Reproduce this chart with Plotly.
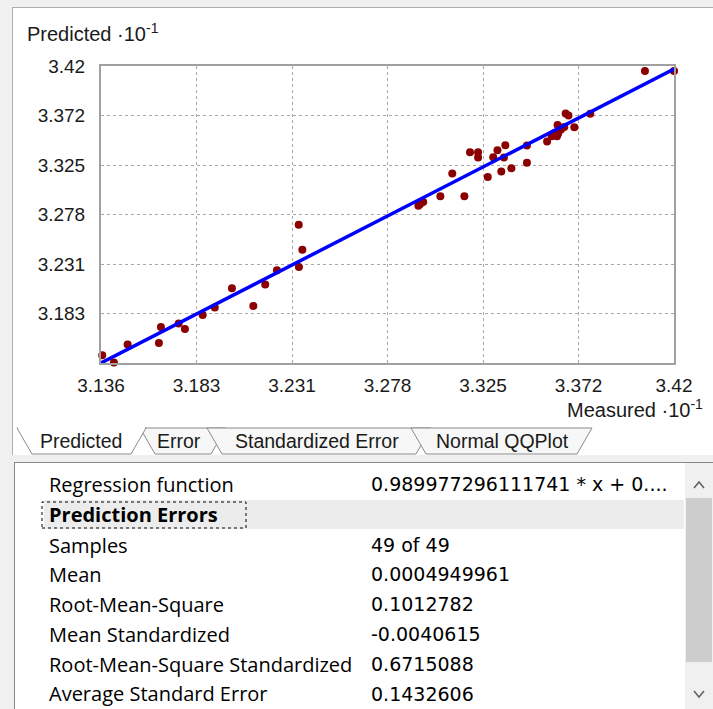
import plotly.graph_objects as go

# Cross-validation: measured vs predicted values (axis units x10^-1)
measured = [
    3.1366, 3.1424, 3.1492, 3.1647, 3.1657, 3.1745, 3.1776, 3.1864, 3.1924, 3.2009,
    3.2115, 3.2174, 3.2232, 3.2340, 3.2358, 3.2341,
    3.2933, 3.2941, 3.2957, 3.3042, 3.3101, 3.3161, 3.3189, 3.3229, 3.3229, 3.3277,
    3.3304, 3.3325, 3.3364, 3.3357, 3.3344, 3.3394, 3.3471, 3.3471,
    3.3571, 3.3594, 3.3604, 3.3610, 3.3620, 3.3626, 3.3623, 3.3640, 3.3656, 3.3663,
    3.3677, 3.3706, 3.3785, 3.4056, 3.4200,
]
predicted = [
    3.1434, 3.1364, 3.1536, 3.1551, 3.1704, 3.1737, 3.1685, 3.1819, 3.1890, 3.2074,
    3.1905, 3.2110, 3.2246, 3.2683, 3.2444, 3.2278,
    3.2863, 3.2878, 3.2900, 3.2954, 3.3171, 3.2954, 3.3375, 3.3375, 3.3324, 3.3139,
    3.3327, 3.3394, 3.3442, 3.3324, 3.3190, 3.3222, 3.3439, 3.3274,
    3.3477, 3.3528, 3.3554, 3.3540, 3.3528, 3.3554, 3.3636, 3.3592, 3.3617, 3.3745,
    3.3726, 3.3614, 3.3743, 3.4152, 3.4152,
]

# Regression line y = slope * x + intercept
slope = 0.989977296111741
intercept = 0.031432

axis_min, axis_max = 3.136, 3.42
x_tick_text = ["3.136", "3.183", "3.231", "3.278", "3.325", "3.372", "3.42"]
y_tick_text = [" ", "3.183", "3.231", "3.278", "3.325", "3.372", "3.42"]

tab_names = ["Predicted", "Error", "Standardized Error", "Normal QQPlot"]

stat_labels = [
    "Regression function", "Prediction Errors", "Samples", "Mean",
    "Root-Mean-Square", "Mean Standardized",
    "Root-Mean-Square Standardized", "Average Standard Error",
]
stat_values = [
    "0.989977296111741 * x + 0....", "", "49 of 49", "0.0004949961",
    "0.1012782", "-0.0040615", "0.6715088", "0.1432606",
]

# ---- page geometry (pixels) ----
W, H = 713, 709
PL, PR, PT, PB = 101, 674, 66, 363


def fx(px):
    return (px - PL) / (PR - PL)


def fy(py):
    return (PB - py) / (PB - PT)


def rect(x0, y0, x1, y1, fill, line=None, lw=1, dash=None, layer="below"):
    d = dict(type="rect", xref="paper", yref="paper",
             x0=fx(x0), x1=fx(x1), y0=fy(y1), y1=fy(y0),
             fillcolor=fill, layer=layer,
             line=dict(width=lw if line else 0, color=line or "rgba(0,0,0,0)"))
    if dash:
        d["line"]["dash"] = dash
    return d


def path(points, fill=None, line="#a0a0a0", lw=1, closed=True, layer="below"):
    s = "M " + " L ".join(f"{fx(x):.5f},{fy(y):.5f}" for x, y in points)
    if closed:
        s += " Z"
    return dict(type="path", xref="paper", yref="paper", path=s, layer=layer,
                fillcolor=fill or "rgba(0,0,0,0)",
                line=dict(color=line, width=lw))


def seg(x0, y0, x1, y1, color, lw=1, layer="below"):
    return dict(type="line", xref="paper", yref="paper",
                x0=fx(x0), y0=fy(y0), x1=fx(x1), y1=fy(y1), layer=layer,
                line=dict(color=color, width=lw))


step = (axis_max - axis_min) / 6
tick_vals = [axis_min + i * step for i in range(7)]

line_x = [axis_min, axis_max]
line_y = [slope * v + intercept for v in line_x]

fig = go.Figure()
fig.add_trace(go.Scatter(
    x=measured, y=predicted, mode="markers",
    marker=dict(color="#8b0000", size=8, symbol="circle", line=dict(width=0)),
    cliponaxis=False, hoverinfo="x+y", showlegend=False,
))
fig.add_trace(go.Scatter(
    x=line_x, y=line_y, mode="lines",
    line=dict(color="#0000ff", width=3.5),
    cliponaxis=False, hoverinfo="skip", showlegend=False,
))

chart_font = "Liberation Sans, Arial, sans-serif"
label_font = "Open Sans, Noto Sans, sans-serif"
value_font = "DejaVu Sans, sans-serif"

axis_common = dict(
    range=[axis_min, axis_max], tickmode="array", tickvals=tick_vals,
    showgrid=True, gridcolor="#a8a8a8", griddash="dot", gridwidth=1,
    showline=True, linecolor="#a0a0a0", linewidth=2, mirror=True,
    zeroline=False, ticks="outside", tickcolor="rgba(0,0,0,0)",
    tickfont=dict(family=chart_font, size=19, color="#1a1a1a"),
    fixedrange=True,
)

shapes = []
# chart panel
shapes.append(rect(12, 7, W + 5, 455, "#ffffff"))
shapes.append(seg(12.5, 7, 12.5, 455, "#adadad"))
shapes.append(seg(12, 7.5, W, 7.5, "#adadad"))

# tabs along the bottom of the chart panel
tab_geom = [(140, 226), (207, 431), (411, 592)]
for L, R in tab_geom:
    shapes.append(path([(L, 428), (L + 15, 454), (R - 15, 454), (R, 428)],
                       fill="#f7f7f7", line="#8a8a8a"))
shapes.append(path([(17, 428), (32, 454), (131, 454), (146, 428)],
                   fill="#ffffff", line="#8a8a8a"))
shapes.append(seg(18, 428, 145, 428, "#ffffff", lw=2))

# property grid
shapes.append(rect(14, 462, W + 5, H + 5, "#ffffff"))
shapes.append(seg(14.5, 462, 14.5, H, "#828790"))
shapes.append(seg(14, 462.5, W, 462.5, "#828790"))
shapes.append(rect(44, 500, 684, 529, "#ececec"))
shapes.append(rect(42, 502, 246, 528, "rgba(0,0,0,0)", line="#000000", lw=1, dash="dot"))

# scrollbar
shapes.append(rect(685, 463, W + 5, H + 5, "#f0f0f0"))
shapes.append(rect(686, 498, 712, 662, "#cdcdcd"))
shapes.append(path([(694, 488), (699, 482), (704, 488)], line="#606060", lw=1.5, closed=False))
shapes.append(path([(694, 691), (699, 697), (704, 691)], line="#606060", lw=1.5, closed=False))

annotations = []


def text(s, x, y, anchor="left", size=19, family=chart_font, color="#1a1a1a"):
    annotations.append(dict(
        text=s, xref="paper", yref="paper", x=fx(x), y=fy(y),
        xanchor=anchor, yanchor="middle", showarrow=False,
        font=dict(family=family, size=size, color=color),
    ))


text("Predicted \u00b710<sup>-1</sup>", 25, 32, size=20)
text("Measured \u00b710<sup>-1</sup>", 705, 408, anchor="right", size=20)

tab_centers = [81, 179, 317, 502]
for name, cx in zip(tab_names, tab_centers):
    text(name, cx, 441, anchor="center", size=19.5)

row_y = [484, 514, 545, 574, 604, 634, 664, 694]
for lab, val, ry in zip(stat_labels, stat_values, row_y):
    if lab == "Prediction Errors":
        text("<b>" + lab + "</b>", 47, ry, size=20, family=label_font, color="#000000")
    else:
        text(lab, 47, ry, size=20, family=label_font, color="#000000")
    if val:
        text(val, 369, ry, size=19, family=value_font, color="#000000")

fig.update_layout(
    width=W, height=H,
    margin=dict(l=PL, r=W - PR, t=PT, b=H - PB, pad=0),
    paper_bgcolor="#f0f0f0", plot_bgcolor="#f5f5f5",
    xaxis=dict(axis_common, ticktext=x_tick_text, ticklen=4),
    yaxis=dict(axis_common, ticktext=y_tick_text, ticklen=10),
    shapes=shapes, annotations=annotations,
    showlegend=False,
)

fig.write_html("out.html")
